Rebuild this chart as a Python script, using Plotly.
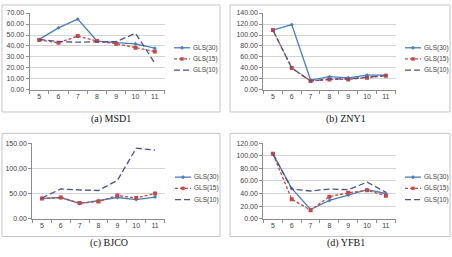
import plotly.graph_objects as go

# ---------------- data ----------------
categories = ["5", "6", "7", "8", "9", "10", "11"]
series_names = ["GLS(30)", "GLS(15)", "GLS(10)"]

msd1_gls30 = [46, 56.5, 64.5, 44.5, 43, 42, 38]
msd1_gls15 = [45.5, 43, 49, 44.5, 42, 38.5, 35]
msd1_gls10 = [46, 44, 43.5, 44, 44, 51.5, 24.5]

zny1_gls30 = [109, 119, 18, 24, 22, 27, 27]
zny1_gls15 = [109, 40, 16, 19, 19, 22, 26]
zny1_gls10 = [109, 40, 16, 20, 20, 23, 26]

bjco_gls30 = [40, 42, 30, 36, 42, 38, 43]
bjco_gls15 = [40, 42, 31, 34, 46, 41, 50]
bjco_gls10 = [41, 59, 57, 56, 76, 140, 136]

yfb1_gls30 = [103, 48, 14.5, 29, 37.5, 46, 40]
yfb1_gls15 = [103, 31, 13.5, 35, 41, 45, 36.5]
yfb1_gls10 = [103, 47, 44, 47, 46, 58, 42]

captions = ["(a) MSD1", "(b) ZNY1", "(c) BJCO", "(d) YFB1"]
y_max = [70, 140, 150, 120]
y_step = [10, 20, 50, 20]

# ---------------- layout helpers ----------------
W, H = 452, 257
def px(x):
    return x / W
def py(y):
    return 1 - y / H

colors = ["#4a7ebb", "#be4b48", "#4f4f8f"]
dashes = ["solid", "3px,2px", "6px,3px"]
symbols = ["diamond", "square", None]

panels = [
    (msd1_gls30, msd1_gls15, msd1_gls10),
    (zny1_gls30, zny1_gls15, zny1_gls10),
    (bjco_gls30, bjco_gls15, bjco_gls10),
    (yfb1_gls30, yfb1_gls15, yfb1_gls10),
]

# plot-area pixel boxes (left, right, top, bottom)
areas = [
    (29.5, 164.5, 9.3, 88.3),
    (263.3, 395.5, 9.3, 88.3),
    (32.3, 164.7, 143, 220.7),
    (263.3, 395.5, 143, 220.7),
]
frames = [
    (2, 220, 1, 111),
    (230, 450, 1, 111),
    (2, 220, 133, 239),
    (230, 450, 133, 239),
]
caption_pos = [(111, 118), (346, 118), (109, 246), (346, 246)]
legend_pos = [(174, 45), (405, 45), (175, 178), (405, 178)]

fig = go.Figure()
shapes = []
annotations = []

for i, data in enumerate(panels):
    xa = "x" if i == 0 else f"x{i+1}"
    ya = "y" if i == 0 else f"y{i+1}"
    for j, vals in enumerate(data):
        mk = dict(color=colors[j], size=4 if j == 1 else 3)
        mode = "lines+markers"
        if symbols[j] is None:
            mode = "lines"
        else:
            mk["symbol"] = symbols[j]
        fig.add_trace(go.Scatter(
            x=categories, y=vals, mode=mode, name=series_names[j],
            line=dict(color=colors[j], width=1.3, dash=dashes[j]),
            marker=mk, xaxis=xa, yaxis=ya, showlegend=False,
        ))
    l, r, t, b = areas[i]
    xkey = "xaxis" if i == 0 else f"xaxis{i+1}"
    ykey = "yaxis" if i == 0 else f"yaxis{i+1}"
    fig.layout[xkey] = dict(
        domain=[px(l), px(r)], anchor=ya, type="category",
        tickson="boundaries", ticks="outside", ticklen=3, tickcolor="#8c8c8c",
        showline=True, linecolor="#8c8c8c", linewidth=1, showgrid=False,
        tickfont=dict(size=7, color="#404040", family="Liberation Sans"),
        fixedrange=True,
    )
    fig.layout[ykey] = dict(
        domain=[py(b), py(t)], anchor=xa, range=[0, y_max[i]], dtick=y_step[i],
        tick0=0, tickformat=".2f", ticks="outside", ticklen=3, tickcolor="#8c8c8c",
        showline=True, linecolor="#8c8c8c", linewidth=1,
        showgrid=True, gridcolor="#d4d4d4", gridwidth=0.6, zeroline=False,
        tickfont=dict(size=7, color="#404040", family="Liberation Sans"),
        fixedrange=True,
    )
    # frame
    fl, fr, ft, fb = frames[i]
    shapes.append(dict(type="rect", xref="paper", yref="paper",
                       x0=px(fl), x1=px(fr), y0=py(fb), y1=py(ft),
                       line=dict(color="#c4c4c4", width=1)))
    # caption
    cx, cy = caption_pos[i]
    annotations.append(dict(text=captions[i], x=px(cx), y=py(cy), xref="paper",
                            yref="paper", showarrow=False, xanchor="center",
                            yanchor="middle",
                            font=dict(size=10, color="#111111",
                                      family="Liberation Serif")))
    # legend (drawn manually for compact spacing)
    lx, ly = legend_pos[i]
    for j in range(3):
        yy = ly + j * 11.5
        shapes.append(dict(type="line", xref="paper", yref="paper",
                           x0=px(lx), x1=px(lx + 16), y0=py(yy), y1=py(yy),
                           line=dict(color=colors[j], width=1.3, dash=dashes[j])))
        if symbols[j] == "square":
            shapes.append(dict(type="rect", xref="paper", yref="paper",
                               x0=px(lx + 6.5), x1=px(lx + 9.5),
                               y0=py(yy + 1.5), y1=py(yy - 1.5),
                               line=dict(color=colors[j], width=0.5),
                               fillcolor=colors[j]))
        elif symbols[j] == "diamond":
            shapes.append(dict(type="path", xref="paper", yref="paper",
                               path=f"M{px(lx+8)},{py(yy-1.8)} L{px(lx+9.8)},{py(yy)} "
                                    f"L{px(lx+8)},{py(yy+1.8)} L{px(lx+6.2)},{py(yy)} Z",
                               line=dict(color=colors[j], width=0.5),
                               fillcolor=colors[j]))
        annotations.append(dict(text=series_names[j], x=px(lx + 17), y=py(yy),
                                xref="paper", yref="paper", showarrow=False,
                                xanchor="left", yanchor="middle",
                                font=dict(size=6.5, color="#404040",
                                          family="Liberation Sans")))

fig.update_layout(
    width=W, height=H, margin=dict(l=0, r=0, t=0, b=0),
    paper_bgcolor="white", plot_bgcolor="white",
    shapes=shapes, annotations=annotations, showlegend=False,
)

fig.write_html("out.html", config={"displayModeBar": False})
